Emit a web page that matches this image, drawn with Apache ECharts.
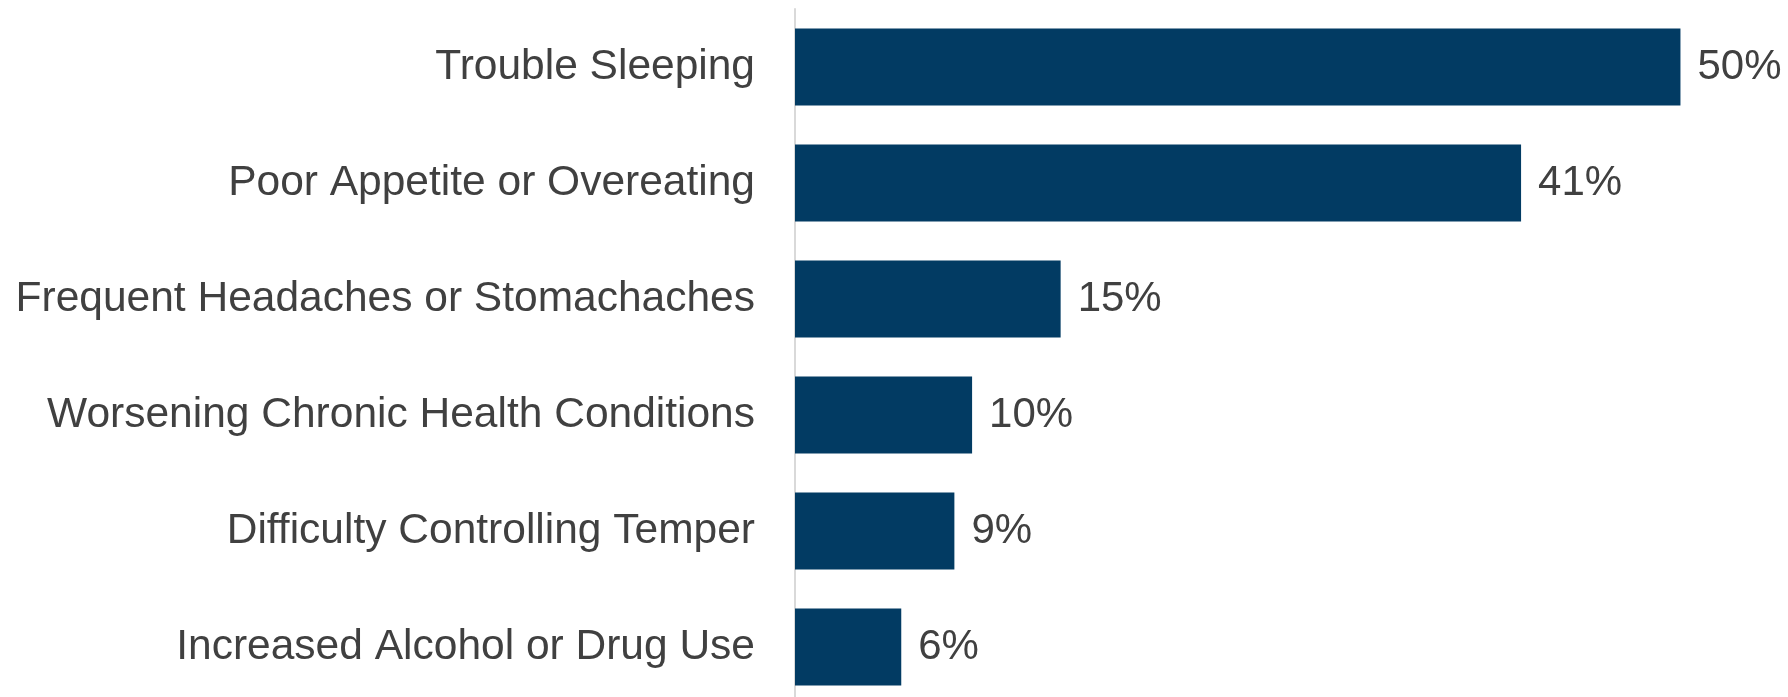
<!DOCTYPE html>
<html>
<head>
<meta charset="utf-8">
<style>
  html, body { margin: 0; padding: 0; background: #ffffff; overflow: hidden; }
  #chart { width: 1788px; height: 705px; }
</style>
<script src="https://cdn.jsdelivr.net/npm/echarts@6/dist/echarts.min.js"></script>
</head>
<body>
<div id="chart"></div>
<script>
const categories = [
  "Trouble Sleeping",
  "Poor Appetite or Overeating",
  "Frequent Headaches or Stomachaches",
  "Worsening Chronic Health Conditions",
  "Difficulty Controlling Temper",
  "Increased Alcohol or Drug Use"
];
const values = [50, 41, 15, 10, 9, 6];

const chart = echarts.init(document.getElementById('chart'), null, { renderer: 'canvas' });
const font = '"Liberation Sans", Arial, sans-serif';
chart.setOption({
  animation: false,
  backgroundColor: '#ffffff',
  grid: { left: 795, top: 9, width: 974, bottom: 0, containLabel: false },
  xAxis: {
    type: 'value', min: 0, max: 55,
    show: false
  },
  yAxis: {
    type: 'category',
    data: categories,
    inverse: true,
    axisLine: { show: true, lineStyle: { color: '#d9d9d9', width: 2 } },
    axisTick: { show: false },
    axisLabel: { fontSize: 42.5, color: '#404040', fontFamily: font, margin: 40 },
    splitLine: { show: false }
  },
  series: [{
    type: 'bar',
    data: values,
    barWidth: 77,
    itemStyle: { color: '#023b63' },
    label: {
      show: true, position: 'right', distance: 17,
      formatter: '{c}%', fontSize: 42, color: '#404040', fontFamily: font
    }
  }]
});
</script>
</body>
</html>
